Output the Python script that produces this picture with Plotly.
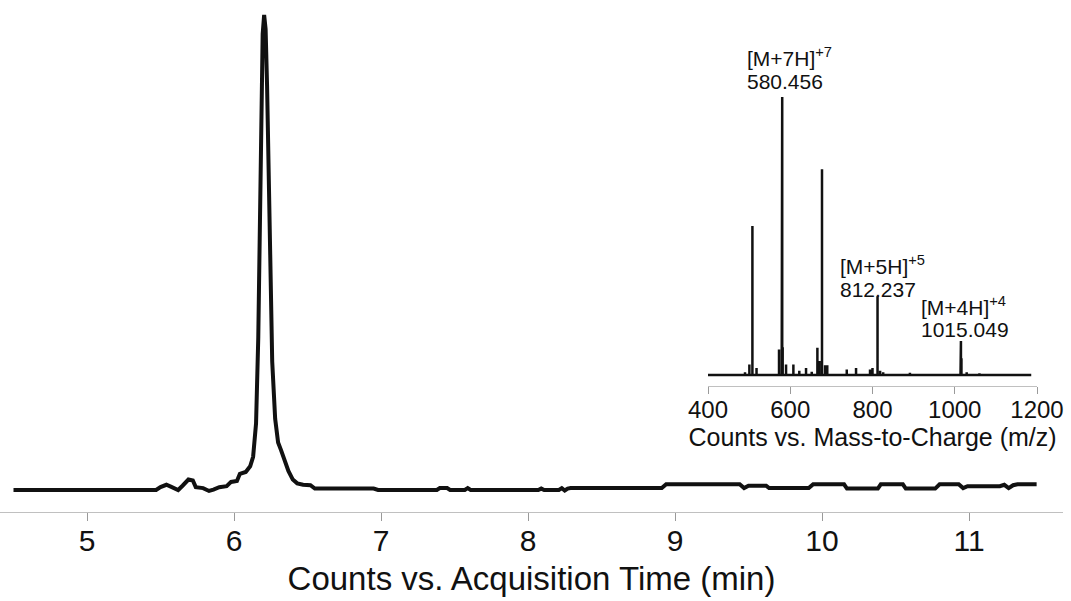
import plotly.graph_objects as go

# ---------------- Data ----------------
# Chromatogram (Acquisition time, min) vs relative counts (%)
time_min = [4.50, 5.47, 5.50, 5.54, 5.57, 5.60, 5.62, 5.65, 5.69, 5.72, 5.74, 5.79, 5.83, 5.86,
            5.90, 5.95, 5.98, 6.02, 6.04, 6.08, 6.11, 6.13, 6.15, 6.165, 6.175, 6.185, 6.195,
            6.205, 6.215, 6.225, 6.235, 6.245, 6.26, 6.28, 6.30, 6.32, 6.34, 6.37, 6.40, 6.43,
            6.47, 6.52, 6.55, 6.95, 6.98, 7.38, 7.40, 7.45, 7.47, 7.57, 7.59, 7.61, 8.07, 8.09,
            8.11, 8.21, 8.23, 8.25, 8.27, 8.29, 8.91, 8.94, 9.44, 9.47, 9.50, 9.62, 9.64, 9.91,
            9.94, 10.15, 10.17, 10.38, 10.40, 10.55, 10.57, 10.77, 10.80, 10.93, 10.96, 10.99,
            11.21, 11.24, 11.27, 11.30, 11.33, 11.46]
counts_pct = [0.0, 0.0, 0.6, 1.1, 0.7, 0.4, 0.0, 0.9, 2.2, 2.0, 0.6, 0.4, -0.2, 0.1,
              0.6, 0.8, 1.7, 1.9, 3.4, 3.8, 5.0, 7.0, 14.0, 32.0, 55.0, 80.0, 96.0,
              100.0, 97.0, 85.0, 65.0, 44.0, 27.0, 15.0, 10.0, 8.4, 6.5, 4.0, 2.2, 1.4,
              1.1, 1.0, 0.3, 0.3, 0.0, 0.0, 0.4, 0.4, 0.0, 0.0, 0.4, 0.0, 0.0, 0.3,
              0.0, 0.0, 0.4, -0.1, 0.3, 0.4, 0.4, 1.2, 1.2, 0.4, 0.9, 0.9, 0.4, 0.4,
              1.2, 1.2, 0.3, 0.3, 1.2, 1.2, 0.3, 0.3, 1.2, 1.2, 0.4, 0.8,
              0.8, 1.1, 0.4, 1.0, 1.2, 1.2]
time_ticks = [5, 6, 7, 8, 9, 10, 11]

# Mass spectrum (inset): m/z and relative abundance (%)
mz_peaks = [490.0, 500.6, 508.0, 518.0, 572.7, 579.2, 580.456, 581.6, 589.8, 607.6, 622.0,
            638.4, 652.2, 666.0, 671.0, 677.2, 684.7, 690.0, 737.4, 760.0, 794.0, 800.0,
            812.237, 818.5, 826.0, 891.0, 1014.0, 1015.049, 1016.3, 1029.0, 1060.0]
mz_abund = [1.0, 3.8, 53.6, 2.5, 9.2, 85.0, 100.0, 10.0, 3.8, 3.8, 1.5,
            2.5, 1.2, 9.8, 5.0, 74.0, 3.5, 3.5, 2.0, 2.5, 2.0, 2.5,
            28.3, 1.5, 1.0, 0.8, 4.4, 12.2, 6.0, 1.0, 0.6]
mz_range_lo, mz_range_hi = 398.0, 1186.0
mz_ticks = [400, 600, 800, 1000, 1200]

ion_labels = ["[M+7H]<sup>+7</sup>", "[M+5H]<sup>+5</sup>", "[M+4H]<sup>+4</sup>"]
ion_mz_text = ["580.456", "812.237", "1015.049"]

# ---------------- Build stick spectrum ----------------
spec_x = [mz_range_lo]
spec_y = [0.0]
for m, a in zip(mz_peaks, mz_abund):
    spec_x += [m, m, m]
    spec_y += [0.0, a, 0.0]
spec_x.append(mz_range_hi)
spec_y.append(0.0)

FONT = "Liberation Sans, Arial, Helvetica, sans-serif"
W, H = 1071, 601
ML, MR, MT, MB = 0, 8, 0, 89
PW = W - ML - MR
PH = H - MT - MB

def px_x(p):
    return (p - ML) / PW

def px_y(p):
    return (H - MB - p) / PH

fig = go.Figure()
fig.add_trace(go.Scatter(x=time_min, y=counts_pct, mode="lines",
                         line=dict(color="#111111", width=4), hoverinfo="skip",
                         xaxis="x", yaxis="y"))
fig.add_trace(go.Scatter(x=spec_x, y=spec_y, mode="lines",
                         line=dict(color="#111111", width=2.5), hoverinfo="skip",
                         xaxis="x2", yaxis="y2"))

# main y range: baseline at pixel 490, 100% at pixel 15, axis line at 512
main_scale = (490 - 15) / 100.0
y_lo = -(512 - 490) / main_scale
y_hi = 100 + 15 / main_scale

# main x range: tick 5 at ~87 px, ~147 px per minute
px_per_min = 147.0
x_lo = 5 - (87 - ML) / px_per_min
x_hi = x_lo + PW / px_per_min

# inset: baseline pixel 375, 100% at 97, axis at 386, top at 80
ins_scale = (375 - 97) / 100.0
y2_lo = -(386 - 375) / ins_scale
y2_hi = 100 + (97 - 80) / ins_scale

fig.update_layout(
    width=W, height=H,
    margin=dict(l=ML, r=MR, t=MT, b=MB, autoexpand=False),
    paper_bgcolor="white", plot_bgcolor="white",
    showlegend=False,
    font=dict(family=FONT, color="#111111"),
    xaxis=dict(range=[x_lo, x_hi], tickvals=time_ticks, ticks="outside", ticklen=8,
               tickcolor="#9a9a9a", tickwidth=1, showline=True, linecolor="#c0c0c0",
               linewidth=1, showgrid=False, zeroline=False, automargin=False,
               ticklabelstandoff=-6,
               tickfont=dict(size=30, family=FONT, color="#111111"),
               title=dict(text="Counts vs. Acquisition Time (min)", standoff=10,
                          font=dict(size=33, family=FONT, color="#111111"))),
    yaxis=dict(range=[y_lo, y_hi], visible=False, automargin=False),
    xaxis2=dict(domain=[px_x(708), px_x(1037)], anchor="y2", range=[400, 1200],
                tickvals=mz_ticks, ticks="outside", ticklen=7, tickcolor="#9a9a9a",
                showline=True, linecolor="#c0c0c0", linewidth=1, showgrid=False,
                zeroline=False, automargin=False, ticklabelstandoff=-5,
                tickfont=dict(size=24, family=FONT, color="#111111"),
                title=dict(text="Counts vs. Mass-to-Charge (m/z)", standoff=2,
                           font=dict(size=25, family=FONT, color="#111111"))),
    yaxis2=dict(domain=[px_y(386), px_y(80)], anchor="x2", range=[y2_lo, y2_hi],
                visible=False, automargin=False),
)

# annotations (positions in pixels converted to paper coords)
label_left = [745, 838, 919]
label_top1 = [57, 265, 306]
label_top2 = [81, 289, 329]
for i in range(3):
    fig.add_annotation(x=px_x(label_left[i]), y=px_y(label_top1[i]), xref="paper", yref="paper",
                       text=ion_labels[i], showarrow=False, xanchor="left", yanchor="middle",
                       font=dict(size=21, family=FONT, color="#111111"))
    fig.add_annotation(x=px_x(label_left[i]), y=px_y(label_top2[i]), xref="paper", yref="paper",
                       text=ion_mz_text[i], showarrow=False, xanchor="left", yanchor="middle",
                       font=dict(size=21, family=FONT, color="#111111"))

fig.write_html("out.html")
